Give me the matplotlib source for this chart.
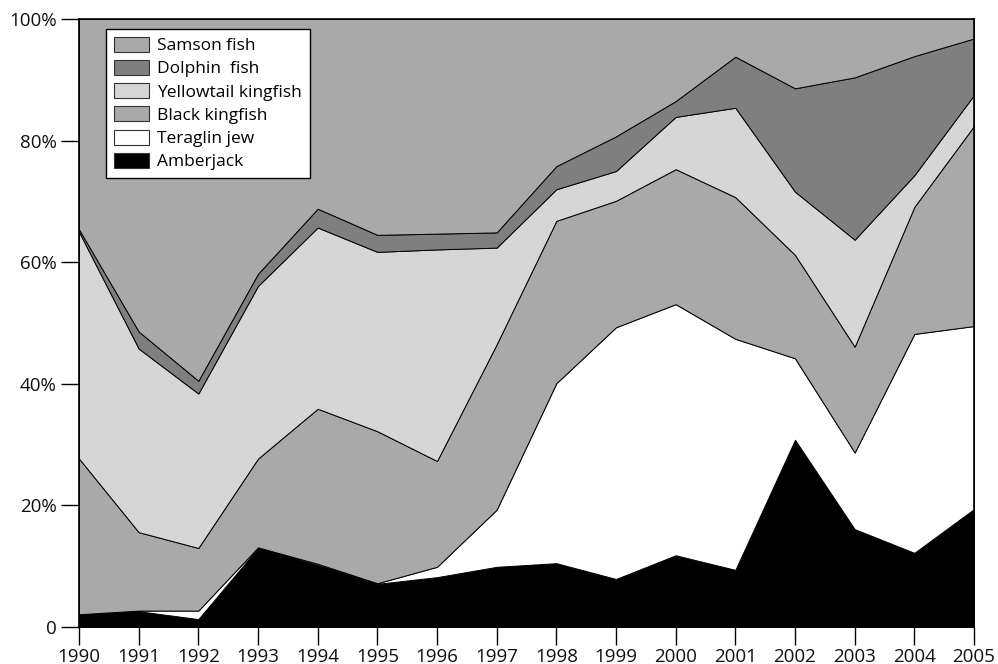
import numpy as np
import matplotlib
matplotlib.use("Agg")
from matplotlib import pyplot as plt
from matplotlib.patches import Patch

# Share of catch (%) per species
years = list(range(1990, 2006))
amberjack = [2.1, 2.6, 1.3, 13.0, 10.2, 7.1, 8.2, 9.9, 10.5, 7.9, 11.8, 9.4, 30.8, 16.1, 12.2, 19.4]
teraglin = [0.0, 0.1, 1.4, 0.1, 0.2, 0.1, 1.7, 9.4, 29.6, 41.4, 41.3, 38.0, 13.4, 12.6, 36.0, 30.1]
black_kingfish = [25.6, 12.9, 10.3, 14.6, 25.5, 25.0, 17.4, 27.2, 26.7, 20.8, 22.2, 23.3, 17.0, 17.4, 20.9, 32.9]
yellowtail = [37.3, 30.2, 25.4, 28.4, 29.8, 29.5, 34.8, 15.9, 5.2, 4.9, 8.6, 14.7, 10.4, 17.6, 5.2, 5.1]
dolphin = [0.4, 2.8, 2.1, 2.0, 3.1, 2.8, 2.6, 2.5, 3.8, 5.7, 2.6, 8.4, 17.0, 26.7, 19.6, 9.3]
samson = [34.6, 51.4, 59.5, 41.9, 31.2, 35.5, 35.3, 35.1, 24.2, 19.3, 13.5, 6.2, 11.4, 9.6, 6.1, 3.2]

labels = ["Amberjack", "Teraglin jew", "Black kingfish",
          "Yellowtail kingfish", "Dolphin  fish", "Samson fish"]
colors = ["#000000", "#ffffff", "#a9a9a9", "#d6d6d6", "#7f7f7f", "#a9a9a9"]
y_ticks = [0, 20, 40, 60, 80, 100]
y_ticklabels = ["0", "20%", "40%", "60%", "80%", "100%"]

plt.rcParams["font.family"] = ["Open Sans", "DejaVu Sans"]

fig = plt.figure(figsize=(9.98, 6.64), dpi=100)
ax = fig.add_axes([79 / 998, 1 - 627 / 664, (974 - 79) / 998, (627 - 19) / 664])

series = np.vstack([amberjack, teraglin, black_kingfish, yellowtail, dolphin, samson])
series = series / series.sum(axis=0) * 100.
ax.stackplot(years, series, colors=colors, edgecolor="black", linewidth=0.7)

ax.set_xlim(years[0], years[-1])
ax.set_ylim(0, 100)
ax.set_xticks(years)
ax.set_xticklabels([str(y) for y in years])
ax.set_yticks(y_ticks)
ax.set_yticklabels(y_ticklabels)
ax.tick_params(axis="both", direction="out", length=13, width=1,
               labelsize=13.5, color="black", labelcolor="#111111")
ax.tick_params(axis="x", pad=2)
ax.tick_params(axis="y", pad=3)
for sp in ax.spines.values():
    sp.set_linewidth(1.2)
    sp.set_color("black")

# Legend, top layer first
handles = [Patch(facecolor=c, edgecolor="#333333", linewidth=0.8) for c in colors]
leg = ax.legend(handles[::-1], labels[::-1], loc="upper left",
                bbox_to_anchor=(27 / 895, 1 - 10 / 608), fontsize=12.5,
                frameon=True, fancybox=False, edgecolor="black",
                framealpha=1, handlelength=2.0, handleheight=0.95,
                labelspacing=0.33, borderpad=0.45, handletextpad=0.5,
                borderaxespad=0)
leg.get_frame().set_linewidth(1.0)

fig.savefig("out.png", dpi=100)
